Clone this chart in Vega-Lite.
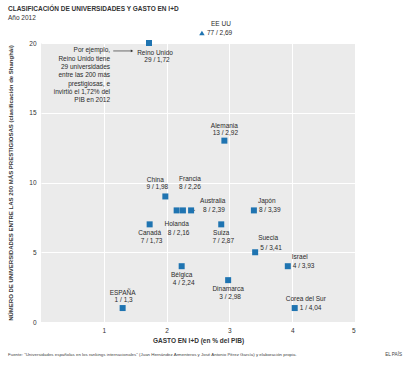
{
  "$schema": "https://vega.github.io/schema/vega-lite/v6.json",
  "width": 314,
  "height": 279,
  "autosize": "none",
  "padding": {"left": 41, "top": 43, "right": 59, "bottom": 44},
  "background": "white",
  "title": {
    "text": "CLASIFICACIÓN DE UNIVERSIDADES Y GASTO EN I+D",
    "subtitle": "Año 2012",
    "anchor": "start",
    "frame": "group",
    "dx": -33,
    "offset": 0,
    "font": "Liberation Sans",
    "fontSize": 6.5,
    "fontWeight": "bold",
    "color": "#333",
    "subtitleFont": "Liberation Sans",
    "subtitleFontSize": 6.5,
    "subtitleColor": "#333",
    "subtitlePadding": 2
  },
  "config": {
    "view": {"fill": "#ebebeb", "stroke": null},
    "axis": {
      "domain": false,
      "ticks": false,
      "grid": true,
      "gridColor": "#ffffff",
      "gridWidth": 1,
      "labelFont": "Liberation Sans",
      "labelFontSize": 6.5,
      "labelColor": "#333",
      "titleFont": "Liberation Sans",
      "titleFontWeight": "bold",
      "titleColor": "#333"
    },
    "text": {"font": "Liberation Sans", "fontSize": 6.5, "color": "#2a2a2a", "baseline": "middle"}
  },
  "data": {
    "values": [
      {"pais": "ESPAÑA", "uni": 1, "gasto": 1.3, "label": "1 / 1,3"},
      {"pais": "Canadá", "uni": 7, "gasto": 1.73, "label": "7 / 1,73"},
      {"pais": "China", "uni": 9, "gasto": 1.98, "label": "9 / 1,98"},
      {"pais": "Holanda", "uni": 8, "gasto": 2.16, "label": "8 / 2,16"},
      {"pais": "Francia", "uni": 8, "gasto": 2.26, "label": "8 / 2,26"},
      {"pais": "Australia", "uni": 8, "gasto": 2.39, "label": "8 / 2,39"},
      {"pais": "Bélgica", "uni": 4, "gasto": 2.24, "label": "4 / 2,24"},
      {"pais": "Suiza", "uni": 7, "gasto": 2.87, "label": "7 / 2,87"},
      {"pais": "Alemania", "uni": 13, "gasto": 2.92, "label": "13 / 2,92"},
      {"pais": "Dinamarca", "uni": 3, "gasto": 2.98, "label": "3 / 2,98"},
      {"pais": "Japón", "uni": 8, "gasto": 3.39, "label": "8 / 3,39"},
      {"pais": "Suecia", "uni": 5, "gasto": 3.41, "label": "5 / 3,41"},
      {"pais": "Israel", "uni": 4, "gasto": 3.93, "label": "4 / 3,93"},
      {"pais": "Corea del Sur", "uni": 1, "gasto": 4.04, "label": "1 / 4,04"},
      {"pais": "Reino Unido", "uni": 29, "gasto": 1.72, "label": "29 / 1,72"},
      {"pais": "EE UU", "uni": 77, "gasto": 2.69, "label": "77 / 2,69"}
    ]
  },
  "encoding": {
    "x": {
      "field": "gasto",
      "type": "quantitative",
      "scale": {"domain": [0, 5], "nice": false, "zero": true},
      "axis": {
        "values": [1, 2, 3, 4, 5],
        "title": "GASTO EN I+D (en % del PIB)",
        "titleFontSize": 6.5,
        "labelPadding": 5,
        "titlePadding": 4
      }
    },
    "y": {
      "field": "uni",
      "type": "quantitative",
      "scale": {"domain": [0, 20], "nice": false},
      "axis": {
        "values": [0, 5, 10, 15, 20],
        "title": "NÚMERO DE UNIVERSIDADES ENTRE LAS 200 MÁS PRESTIGIOSAS (clasificación de Shanghái)",
        "titleFontSize": 6,
        "labelPadding": 5,
        "titlePadding": 15
      }
    }
  },
  "layer": [
    {
      "transform": [{"filter": {"field": "pais", "equal": "Francia"}}],
      "mark": {"type": "rule", "color": "#555", "strokeWidth": 0.7},
      "encoding": {"y2": {"field": "uni"}, "y2Offset": {"value": -19}}
    },
    {
      "transform": [{"filter": {"field": "pais", "equal": "Holanda"}}],
      "mark": {"type": "rule", "color": "#555", "strokeWidth": 0.7},
      "encoding": {"y2": {"field": "uni"}, "y2Offset": {"value": 9}}
    },
    {
      "transform": [{"filter": {"field": "pais", "equal": "Australia"}}],
      "mark": {"type": "rule", "color": "#555", "strokeWidth": 0.7},
      "encoding": {"x2": {"field": "gasto"}, "xOffset": {"value": 4}, "x2Offset": {"value": 11}}
    },
    {
      "transform": [{"filter": {"not": {"field": "pais", "oneOf": ["Reino Unido", "EE UU"]}}}],
      "mark": {"type": "point", "shape": "square", "filled": true, "size": 36, "color": "#1f74b1", "opacity": 1}
    },
    {
      "transform": [{"filter": {"field": "pais", "equal": "Reino Unido"}}],
      "mark": {"type": "point", "shape": "square", "filled": true, "size": 36, "color": "#1f74b1", "opacity": 1},
      "encoding": {"y": {"datum": 20}}
    },
    {
      "transform": [{"filter": {"field": "pais", "equal": "EE UU"}}],
      "mark": {"type": "point", "shape": "triangle-up", "filled": true, "size": 30, "color": "#1f74b1", "opacity": 1},
      "encoding": {"y": {"datum": 20}, "yOffset": {"value": -10}, "xOffset": {"value": -8}}
    },
    {
      "transform": [{"filter": {"field": "pais", "equal": "EE UU"}}],
      "mark": {"type": "text", "align": "left", "dx": -3, "dy": 0},
      "encoding": {"y": {"datum": 20}, "yOffset": {"value": -10}, "text": {"field": "label"}}
    },
    {
      "transform": [{"filter": {"field": "pais", "equal": "EE UU"}}],
      "mark": {"type": "text", "align": "center", "dx": 11, "dy": -9},
      "encoding": {"y": {"datum": 20}, "yOffset": {"value": -10}, "text": {"field": "pais"}}
    },
    {
      "transform": [{"filter": {"field": "pais", "equal": "Reino Unido"}}],
      "mark": {"type": "text", "align": "center", "dx": 6, "dy": 10},
      "encoding": {"y": {"datum": 20}, "text": {"field": "pais"}}
    },
    {
      "transform": [{"filter": {"field": "pais", "equal": "Reino Unido"}}],
      "mark": {"type": "text", "align": "center", "dx": 8, "dy": 17},
      "encoding": {"y": {"datum": 20}, "text": {"field": "label"}}
    },
    {
      "transform": [{"filter": {"field": "pais", "oneOf": ["ESPAÑA", "Alemania"]}}],
      "mark": {"type": "text", "align": "center", "dy": -15},
      "encoding": {"text": {"field": "pais"}}
    },
    {
      "transform": [{"filter": {"field": "pais", "oneOf": ["ESPAÑA", "Alemania"]}}],
      "mark": {"type": "text", "align": "center", "dx": 1, "dy": -8},
      "encoding": {"text": {"field": "label"}}
    },
    {
      "transform": [{"filter": {"field": "pais", "equal": "China"}}],
      "mark": {"type": "text", "align": "center", "dx": -10, "dy": -16},
      "encoding": {"text": {"field": "pais"}}
    },
    {
      "transform": [{"filter": {"field": "pais", "equal": "China"}}],
      "mark": {"type": "text", "align": "center", "dx": -8, "dy": -9},
      "encoding": {"text": {"field": "label"}}
    },
    {
      "transform": [{"filter": {"field": "pais", "equal": "Francia"}}],
      "mark": {"type": "text", "align": "center", "dx": 7, "dy": -31},
      "encoding": {"text": {"field": "pais"}}
    },
    {
      "transform": [{"filter": {"field": "pais", "equal": "Francia"}}],
      "mark": {"type": "text", "align": "center", "dx": 7, "dy": -23},
      "encoding": {"text": {"field": "label"}}
    },
    {
      "transform": [{"filter": {"field": "pais", "oneOf": ["Canadá", "Suiza", "Bélgica", "Dinamarca"]}}],
      "mark": {"type": "text", "align": "center", "dy": 9},
      "encoding": {"text": {"field": "pais"}}
    },
    {
      "transform": [{"filter": {"field": "pais", "oneOf": ["Canadá", "Suiza", "Bélgica", "Dinamarca"]}}],
      "mark": {"type": "text", "align": "center", "dx": 2, "dy": 17},
      "encoding": {"text": {"field": "label"}}
    },
    {
      "transform": [{"filter": {"field": "pais", "equal": "Holanda"}}],
      "mark": {"type": "text", "align": "center", "dy": 14},
      "encoding": {"text": {"field": "pais"}}
    },
    {
      "transform": [{"filter": {"field": "pais", "equal": "Holanda"}}],
      "mark": {"type": "text", "align": "center", "dx": 2, "dy": 23},
      "encoding": {"text": {"field": "label"}}
    },
    {
      "transform": [{"filter": {"field": "pais", "oneOf": ["Japón", "Israel"]}}],
      "mark": {"type": "text", "align": "left", "dx": 4, "dy": -9},
      "encoding": {"text": {"field": "pais"}}
    },
    {
      "transform": [{"filter": {"field": "pais", "oneOf": ["Japón", "Israel", "Corea del Sur"]}}],
      "mark": {"type": "text", "align": "left", "dx": 5, "dy": 0},
      "encoding": {"text": {"field": "label"}}
    },
    {
      "transform": [{"filter": {"field": "pais", "equal": "Suecia"}}],
      "mark": {"type": "text", "align": "left", "dx": 3, "dy": -14},
      "encoding": {"text": {"field": "pais"}}
    },
    {
      "transform": [{"filter": {"field": "pais", "equal": "Suecia"}}],
      "mark": {"type": "text", "align": "left", "dx": 5, "dy": -4},
      "encoding": {"text": {"field": "label"}}
    },
    {
      "transform": [{"filter": {"field": "pais", "equal": "Corea del Sur"}}],
      "mark": {"type": "text", "align": "left", "dx": -9, "dy": -9},
      "encoding": {"text": {"field": "pais"}}
    },
    {
      "transform": [{"filter": {"field": "pais", "equal": "Australia"}}],
      "mark": {"type": "text", "align": "left", "dx": 9, "dy": -9},
      "encoding": {"text": {"field": "pais"}}
    },
    {
      "transform": [{"filter": {"field": "pais", "equal": "Australia"}}],
      "mark": {"type": "text", "align": "left", "dx": 12, "dy": 0},
      "encoding": {"text": {"field": "label"}}
    },
    {
      "transform": [{"filter": {"field": "pais", "equal": "Reino Unido"}}],
      "mark": {
        "type": "text",
        "align": "right",
        "baseline": "top",
        "lineHeight": 8.3,
        "text": ["Por ejemplo,", "Reino Unido tiene", "29 universidades", "entre las 200 más", "prestigiosas, e", "invirtió el 1,72% del", "PIB en 2012"]
      },
      "encoding": {"x": {"datum": 1.1}, "y": {"datum": 19.68}}
    },
    {
      "transform": [{"filter": {"field": "pais", "equal": "Reino Unido"}}],
      "mark": {"type": "rule", "color": "#333", "strokeWidth": 0.7},
      "encoding": {"x": {"datum": 1.15}, "x2": {"datum": 1.44}, "y": {"datum": 19.43}}
    },
    {
      "transform": [{"filter": {"field": "pais", "equal": "Reino Unido"}}],
      "mark": {"type": "point", "shape": "triangle-right", "filled": true, "size": 8, "color": "#333", "opacity": 1},
      "encoding": {"x": {"datum": 1.45}, "y": {"datum": 19.43}}
    },
    {
      "transform": [{"filter": {"field": "pais", "equal": "ESPAÑA"}}],
      "mark": {
        "type": "text",
        "align": "left",
        "fontSize": 4.4,
        "color": "#444",
        "text": "Fuente: \"Universidades españolas en los rankings internacionales\" (Juan Hernández Armenteros y José Antonio Pérez García) y elaboración propia."
      },
      "encoding": {"x": {"datum": -0.525}, "y": {"datum": -2.37}}
    },
    {
      "transform": [{"filter": {"field": "pais", "equal": "ESPAÑA"}}],
      "mark": {"type": "text", "align": "left", "fontSize": 4.6, "color": "#444", "text": "EL PAÍS"},
      "encoding": {"x": {"datum": 5.48}, "y": {"datum": -2.37}}
    }
  ]
}
